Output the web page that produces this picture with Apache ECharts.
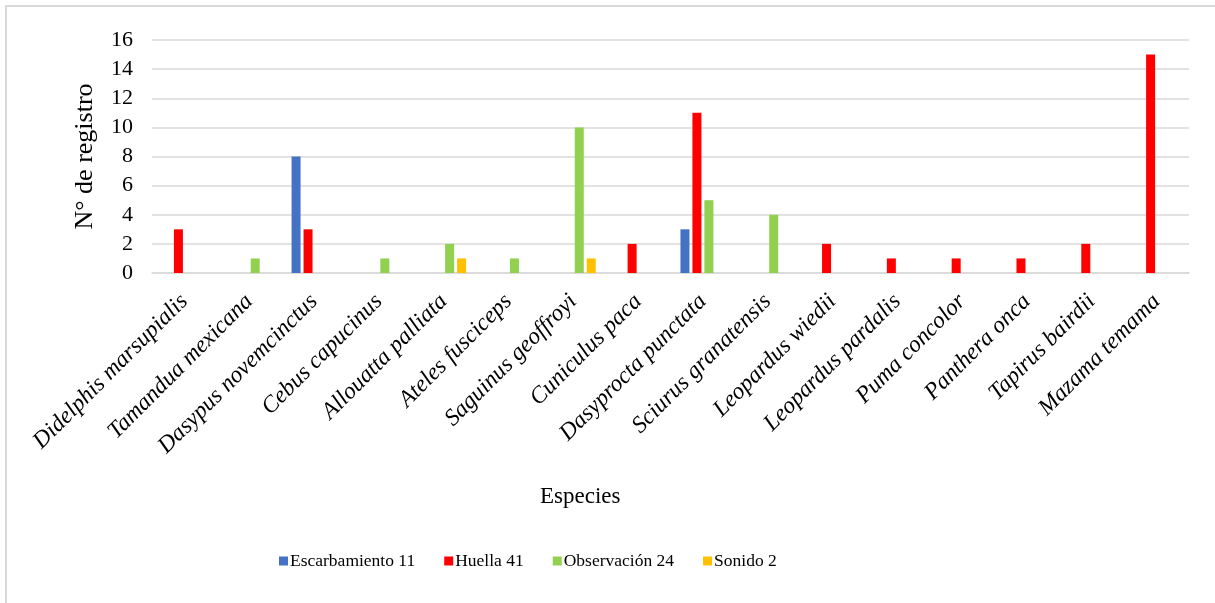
<!DOCTYPE html>
<html>
<head>
<meta charset="utf-8">
<script src="https://cdn.jsdelivr.net/npm/echarts@6/dist/echarts.min.js"></script>
<style>
  html, body { margin: 0; padding: 0; background: #fff; }
  #chart { width: 1215px; height: 603px; }
</style>
</head>
<body>
<div id="chart"></div>
<script>
// Species recorded and number of records per detection method
const species = [
  'Didelphis marsupialis', 'Tamandua mexicana', 'Dasypus novemcinctus', 'Cebus capucinus',
  'Allouatta palliata', 'Ateles fusciceps', 'Saguinus geoffroyi', 'Cuniculus paca',
  'Dasyprocta punctata', 'Sciurus granatensis', 'Leopardus wiedii', 'Leopardus pardalis',
  'Puma concolor', 'Panthera onca', 'Tapirus bairdii', 'Mazama temama'
];
const escarbamiento = [0, 0, 8, 0, 0, 0, 0, 0, 3, 0, 0, 0, 0, 0, 0, 0];
const huella        = [3, 0, 3, 0, 0, 0, 0, 2, 11, 0, 2, 1, 1, 1, 2, 15];
const observacion   = [0, 1, 0, 1, 2, 1, 10, 0, 5, 4, 0, 0, 0, 0, 0, 0];
const sonido        = [0, 0, 0, 0, 1, 0, 1, 0, 0, 0, 0, 0, 0, 0, 0, 0];
const seriesNames = ['Escarbamiento 11', 'Huella 41', 'Observación 24', 'Sonido 2'];
const yTicks = { min: 0, max: 16, interval: 2 };

const serif = '"Liberation Serif", "Times New Roman", serif';
const colors = ['#4472C4', '#FF0000', '#92D050', '#FFC000'];
const seriesData = [escarbamiento, huella, observacion, sonido];

const chart = echarts.init(document.getElementById('chart'));
chart.setOption({
  animation: false,
  backgroundColor: '#ffffff',
  color: colors,
  grid: { left: 152, right: 26, top: 40, bottom: 330, containLabel: false },
  legend: {
    left: 274,
    top: 547,
    itemWidth: 9,
    itemHeight: 9,
    itemGap: 29,
    icon: 'rect',
    textStyle: { fontFamily: serif, fontSize: 17.5, color: '#000', padding: [0, 0, 0, -3] },
    data: seriesNames
  },
  xAxis: {
    type: 'category',
    data: species,
    axisLine: { lineStyle: { color: '#d9d9d9', width: 1.5 } },
    axisTick: { show: false },
    axisLabel: {
      interval: 0,
      rotate: 45,
      margin: 25,
      fontFamily: serif,
      fontStyle: 'italic',
      fontSize: 23.5,
      color: '#000'
    }
  },
  yAxis: {
    type: 'value',
    min: yTicks.min,
    max: yTicks.max,
    interval: yTicks.interval,
    name: 'N° de registro',
    nameLocation: 'middle',
    nameGap: 54,
    nameTextStyle: { fontFamily: serif, fontSize: 26, color: '#000' },
    axisLine: { show: false },
    axisTick: { show: false },
    axisLabel: { fontFamily: serif, fontSize: 22, color: '#000', margin: 19 },
    splitLine: { lineStyle: { color: '#d9d9d9', width: 1.5 } }
  },
  series: seriesNames.map((name, i) => ({
    name: name,
    type: 'bar',
    data: seriesData[i],
    barWidth: 9,
    barGap: '33%',
    itemStyle: { color: colors[i] }
  })),
  graphic: [
    {
      type: 'rect',
      shape: { x: 6, y: 6, width: 1215, height: 603 },
      style: { fill: 'none', stroke: '#d9d9d9', lineWidth: 2 },
      silent: true
    },
    {
      type: 'text',
      left: 540,
      top: 485,
      style: { text: 'Especies', font: '23px ' + serif, fill: '#000' }
    }
  ]
});
</script>
</body>
</html>
